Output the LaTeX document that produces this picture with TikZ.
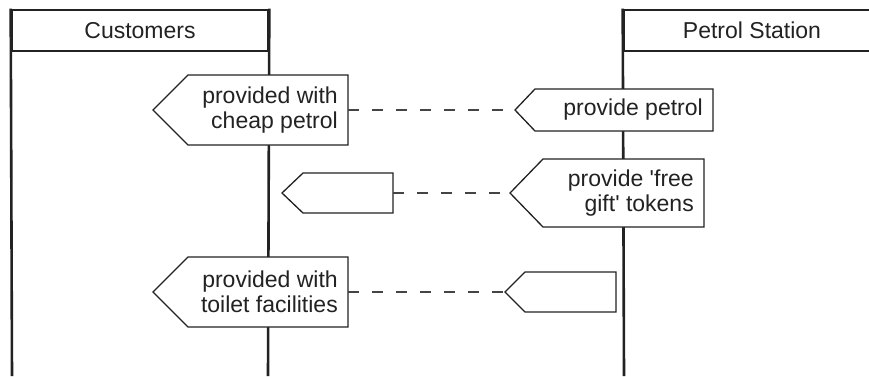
\documentclass[tikz,border=0pt]{standalone}
\usepackage{fontspec}
\setmainfont[Ligatures=TeXOff]{Liberation Sans}
\definecolor{ink}{HTML}{222222}
\definecolor{dashink}{HTML}{444444}
\tikzset{
  lanehead/.style={draw=ink, line width=2.6pt, minimum width=256pt, minimum height=41pt,
    inner sep=0pt, font=\fontsize{23}{25}\selectfont, text=ink},
  laneline/.style={draw=ink, line width=2.6pt},
  tagline/.style={draw=ink, fill=white, line width=1.3pt, line join=miter},
  tagtext/.style={anchor=east, align=right, inner sep=0pt, xshift=-10pt,
    font=\fontsize{23}{25}\selectfont, text=ink},
  link/.style={draw=dashink, line width=1.3pt, dash pattern=on 11pt off 13pt}
}
% pentagon tag: name, tip x, shoulder x, right x, top y, bottom y
\newcommand\tagshape[6]{%
  \filldraw[tagline] (#2,{(#5+#6)/2}) -- (#3,#5) -- (#4,#5) -- (#4,#6) -- (#3,#6) -- cycle;
  \coordinate (#1-tip) at (#2,{(#5+#6)/2});
  \coordinate (#1-end) at (#4,{(#5+#6)/2});
}
\begin{document}
\begin{tikzpicture}[x=1pt,y=-1pt]
\useasboundingbox (0,0) rectangle (869,376);

% swimlanes
\node[lanehead] (cust) at (140,30.5) {Customers};
\node[lanehead] (station) at (752,30.5) {Petrol Station};
\coordinate (custbl) at (12,376);
\coordinate (custbr) at (268,376);
\coordinate (stationbl) at (624,376);
\draw[laneline] (cust.north west) -- (custbl);
\draw[laneline] (cust.north east) -- (custbr);
\draw[laneline] (station.north west) -- (stationbl);

% tags on the customer side
\tagshape{c1}{153}{188}{348}{75}{145}
\tagshape{c2}{282}{303}{393}{173}{213}
\tagshape{c3}{153}{188}{348}{257}{327}
% tags on the station side
\tagshape{s1}{515}{535}{713}{89}{131}
\tagshape{s2}{510}{543}{704}{159}{227}
\tagshape{s3}{505}{525}{616}{272}{312}

\node[tagtext] (c1t) at (c1-end) {provided with\\cheap petrol};
\node[tagtext] (c3t) at (c3-end) {provided with\\toilet facilities};
\node[tagtext] (s1t) at (s1-end) {provide petrol};
\node[tagtext] (s2t) at (s2-end) {provide 'free\\gift' tokens};

% dashed links between matching tags
\draw[link] (c1-end) -- (s1-tip);
\draw[link] (c2-end) -- (s2-tip);
\draw[link] (c3-end) -- (s3-tip);
\end{tikzpicture}
\end{document}
